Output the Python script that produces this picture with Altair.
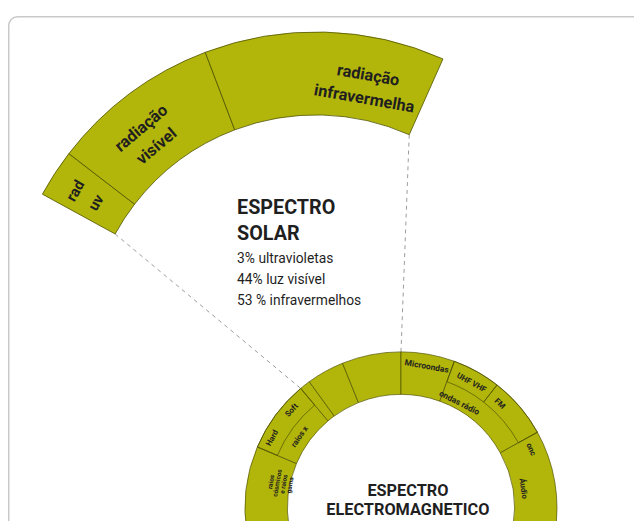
import math
import altair as alt
import pandas as pd

# ---------------- data ----------------
# solar spectrum band: angular extent of each segment (degrees, clockwise from 12 o'clock)
solar_bands = ["rad uv", "radiação visível", "radiação infravermelha"]
solar_start = [-61.3, -52.4, -20.8]
solar_end = [-52.4, -20.8, 24.0]
solar_labels = ["rad\nuv", "radiação\nvisível", "radiação\ninfravermelha"]

# electromagnetic spectrum ring
em_bands = ["raios gama e cósmicos", "raios x", "ultravioleta", "visível",
            "infravermelho", "microondas", "ondas rádio", "áudio"]
em_start = [-100, -67, -40, -36, -22, 0, 20, 61]
em_end = [-67, -40, -36, -22, 0, 20, 61, 100]

# sub-bands drawn in the outer half of the ring
em_sub = ["raios x hard/soft", "UHF VHF", "FM"]
em_sub_start = [-67, 20, 38]
em_sub_end = [-40, 38, 61]

em_labels = ["raios\ncósmicos\ne raios\ngama", "Hard", "Soft", "raios x", "Microondas",
             "UHF VHF", "FM", "ondas rádio", "onc", "Áudio"]

solar_title = ["ESPECTRO\nSOLAR"]
solar_lines = ["3% ultravioletas\n44% luz visível\n53 % infravermelhos"]
em_title = ["ESPECTRO\nELECTROMAGNETICO"]

# ---------------- layout ----------------
W, H = 634, 513
SOLAR_C = (312, 337)
SOLAR_RO, SOLAR_RI = 316, 232
EM_C = (398, 503)
EM_RO, EM_RI, EM_RM = 158, 115, 136

# label placements: (theta deg, radius px, rotation deg, font size)
solar_label_pos = [(-57.5, 289, -60, 15), (-39.0, 281, -40, 16.5), (11.0, 277, 10, 16.5)]
solar_line_h = 24
em_label_pos = [(-78.7, 134, -80, 6.5), (-61.5, 148, -62, 8), (-48.2, 148, -48, 8),
                (-54.9, 125, -55, 8), (10.3, 146, 10, 8.5), (29.4, 145, 29, 8),
                (43.5, 145, 44, 8), (29.0, 122, 27, 8.5), (65.8, 144, 66, 8),
                (81.0, 125, 82, 8)]

GREEN = "#b2b50a"
LINE = "#4f5200"
INK = "#1f1f1f"
FONT = "Roboto"

TH = alt.Scale(domain=[-180, 180], range=[-math.pi, math.pi])


def polar(c, r, deg):
    a = math.radians(deg)
    return c[0] + r * math.sin(a), c[1] - r * math.cos(a)


# ---------------- layers ----------------
panel = alt.Chart(alt.Data(values=[{}])).mark_rect(
    filled=False, stroke="#c9c9c9", strokeWidth=1.5, cornerRadius=9
).encode(x=alt.value(0.75), x2=alt.value(720), y=alt.value(5.5), y2=alt.value(720))

solar_df = pd.DataFrame({"band": solar_bands, "start": solar_start, "end": solar_end})
solar_arc = alt.Chart(solar_df).mark_arc(
    outerRadius=SOLAR_RO, innerRadius=SOLAR_RI, fill=GREEN, stroke=LINE, strokeWidth=0.8
).encode(
    theta=alt.Theta("start:Q", scale=TH, stack=None), theta2="end:Q",
    x=alt.value(SOLAR_C[0]), y=alt.value(SOLAR_C[1]),
)

em_df = pd.DataFrame({"band": em_bands, "start": em_start, "end": em_end})
em_arc = alt.Chart(em_df).mark_arc(
    outerRadius=EM_RO, innerRadius=EM_RI, fill=GREEN, stroke=LINE, strokeWidth=0.7
).encode(
    theta=alt.Theta("start:Q", scale=TH, stack=None), theta2="end:Q",
    x=alt.value(EM_C[0]), y=alt.value(EM_C[1]),
)

sub_df = pd.DataFrame({"band": em_sub, "start": em_sub_start, "end": em_sub_end})
em_sub_arc = alt.Chart(sub_df).mark_arc(
    outerRadius=EM_RO, innerRadius=EM_RM, filled=False, stroke=LINE, strokeWidth=0.7
).encode(
    theta=alt.Theta("start:Q", scale=TH, stack=None), theta2="end:Q",
    x=alt.value(EM_C[0]), y=alt.value(EM_C[1]),
)

# dashed connectors: inner corners of solar band -> matching points of EM ring
p1 = polar(SOLAR_C, SOLAR_RI, solar_start[0])
q1 = polar(EM_C, EM_RO, em_start[2])
p2 = polar(SOLAR_C, SOLAR_RI, solar_end[-1])
q2 = polar(EM_C, EM_RO, em_end[4])
conn_df = pd.DataFrame({"x": [p1[0], p2[0]], "y": [p1[1], p2[1]],
                        "x2": [q1[0], q2[0]], "y2": [q1[1], q2[1]]})
connectors = alt.Chart(conn_df).mark_rule(
    stroke="#9a9a9a", strokeWidth=1, strokeDash=[4, 4]
).encode(
    x=alt.X("x:Q", scale=None), y=alt.Y("y:Q", scale=None),
    x2="x2:Q", y2="y2:Q",
)


def arc_labels(labels, pos, c, weight, line_h):
    df = pd.DataFrame({
        "label": labels,
        "t": [p[0] for p in pos],
        "r": [p[1] for p in pos],
        "rot": [(p[2]) % 360 for p in pos],
        "size": [p[3] for p in pos],
    })
    return alt.Chart(df).mark_text(
        font=FONT, fontWeight=weight, color=INK, align="center", baseline="middle",
        lineBreak="\n", lineHeight=line_h,
    ).encode(
        theta=alt.Theta("t:Q", scale=TH, stack=None),
        radius=alt.Radius("r:Q", scale=None),
        angle=alt.Angle("rot:Q", scale=None),
        size=alt.Size("size:Q", scale=None),
        text="label:N",
        x=alt.value(c[0]), y=alt.value(c[1]),
    )


solar_text = arc_labels(solar_labels, solar_label_pos, SOLAR_C, "bold", solar_line_h)
em_text = arc_labels(em_labels, em_label_pos, EM_C, "bold", 6.5)

t_solar = alt.Chart(pd.DataFrame({"t": solar_title})).mark_text(
    font=FONT, fontWeight="bold", fontSize=20, color=INK, align="left",
    baseline="alphabetic", lineBreak="\n", lineHeight=27
).encode(text="t:N", x=alt.value(232), y=alt.value(205))

t_lines = alt.Chart(pd.DataFrame({"t": solar_lines})).mark_text(
    font=FONT, fontSize=14, color=INK, align="left",
    baseline="alphabetic", lineBreak="\n", lineHeight=21.5
).encode(text="t:N", x=alt.value(232), y=alt.value(255))

t_em = alt.Chart(pd.DataFrame({"t": em_title})).mark_text(
    font=FONT, fontWeight="bold", fontSize=16.5, color=INK, align="center",
    baseline="alphabetic", lineBreak="\n", lineHeight=19
).encode(text="t:N", x=alt.value(405), y=alt.value(491))

chart = alt.layer(
    panel, connectors, solar_arc, em_arc, em_sub_arc, solar_text, em_text,
    t_solar, t_lines, t_em
).properties(
    width=W, height=H, autosize="none", padding=0, background="white"
).configure_view(stroke=None)

chart.save("out.html", embed_options={"renderer": "svg", "actions": False})
